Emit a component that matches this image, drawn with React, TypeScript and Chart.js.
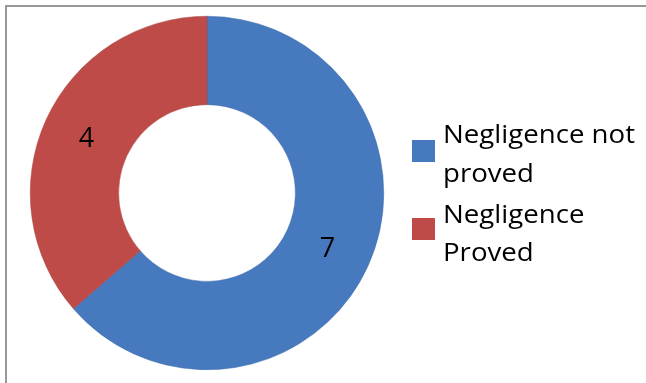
import React, { useEffect, useRef } from "react";
import { Chart, registerables } from "chart.js";

Chart.register(...registerables);

const categories = ["Negligence not proved", "Negligence Proved"];
const legendLines = [["Negligence not", "proved"], ["Negligence", "Proved"]];
const values = [7, 4];
const colors = ["#4679BE", "#BE4B48"];

const FONT = "'Open Sans', Lato, sans-serif";

const labelPlugin = {
  id: "sliceLabels",
  afterDatasetsDraw(chart: any) {
    const ctx = chart.ctx;
    const meta = chart.getDatasetMeta(0);
    ctx.save();
    ctx.fillStyle = "#000";
    ctx.font = `27px ${FONT}`;
    ctx.textAlign = "center";
    ctx.textBaseline = "middle";
    meta.data.forEach((arc: any, i: number) => {
      const p = arc.tooltipPosition();
      ctx.fillText(String(chart.data.datasets[0].data[i]), p.x, p.y + 1);
    });
    ctx.restore();
  },
};

let legendScale = 1;

const legendPlugin = {
  id: "customLegend",
  afterDraw(chart: any) {
    const ctx = chart.ctx;
    const ds = chart.data.datasets[0];
    const boxes = [140, 218];
    const baselines = [
      [143, 182],
      [223, 261],
    ];
    ctx.save();
    ctx.font = `25px ${FONT}`;
    ctx.textAlign = "left";
    ctx.textBaseline = "alphabetic";
    legendLines.forEach((lines, i) => {
      ctx.fillStyle = ds.backgroundColor[i];
      ctx.fillRect(412, boxes[i], 23, 22);
      ctx.fillStyle = "#000";
      lines.forEach((t, j) => {
        const w = ctx.measureText(lines[0]).width;
        ctx.save();
        ctx.translate(443, baselines[i][j]);
        const sx = i === 0 ? 192 / w : legendScale;
        if (i === 0) legendScale = sx;
        ctx.scale(sx, 1);
        ctx.fillText(t, 0, 0);
        ctx.restore();
      });
    });
    ctx.restore();
  },
};

export default function App() {
  const ref = useRef<HTMLCanvasElement>(null);
  useEffect(() => {
    if (!ref.current) return;
    const chart = new Chart(ref.current, {
      type: "doughnut",
      data: {
        labels: categories,
        datasets: [
          {
            data: values,
            backgroundColor: colors,
            borderColor: ["#3D6DAD", "#A94240"],
            borderWidth: 0.5,
          },
        ],
      },
      options: {
        responsive: false,
        animation: false,
        cutout: "50%",
        layout: { padding: { left: 30, right: 262, top: 16, bottom: 13 } },
        plugins: {
          legend: { display: false },
          tooltip: { enabled: false },
        },
      },
      plugins: [labelPlugin, legendPlugin],
    });
    return () => chart.destroy();
  }, []);
  return (
    <div style={{ position: "fixed", left: 0, top: 0, width: 646, height: 383, background: "#fff" }}>
      <canvas ref={ref} width={646} height={383} style={{ position: "absolute", left: 0, top: 0 }} />
      <div
        style={{
          position: "absolute",
          left: 5,
          top: 5,
          width: 641,
          height: 378,
          borderTop: "2px solid #999",
          borderLeft: "2px solid #999",
          boxSizing: "border-box",
          pointerEvents: "none",
        }}
      />
    </div>
  );
}
